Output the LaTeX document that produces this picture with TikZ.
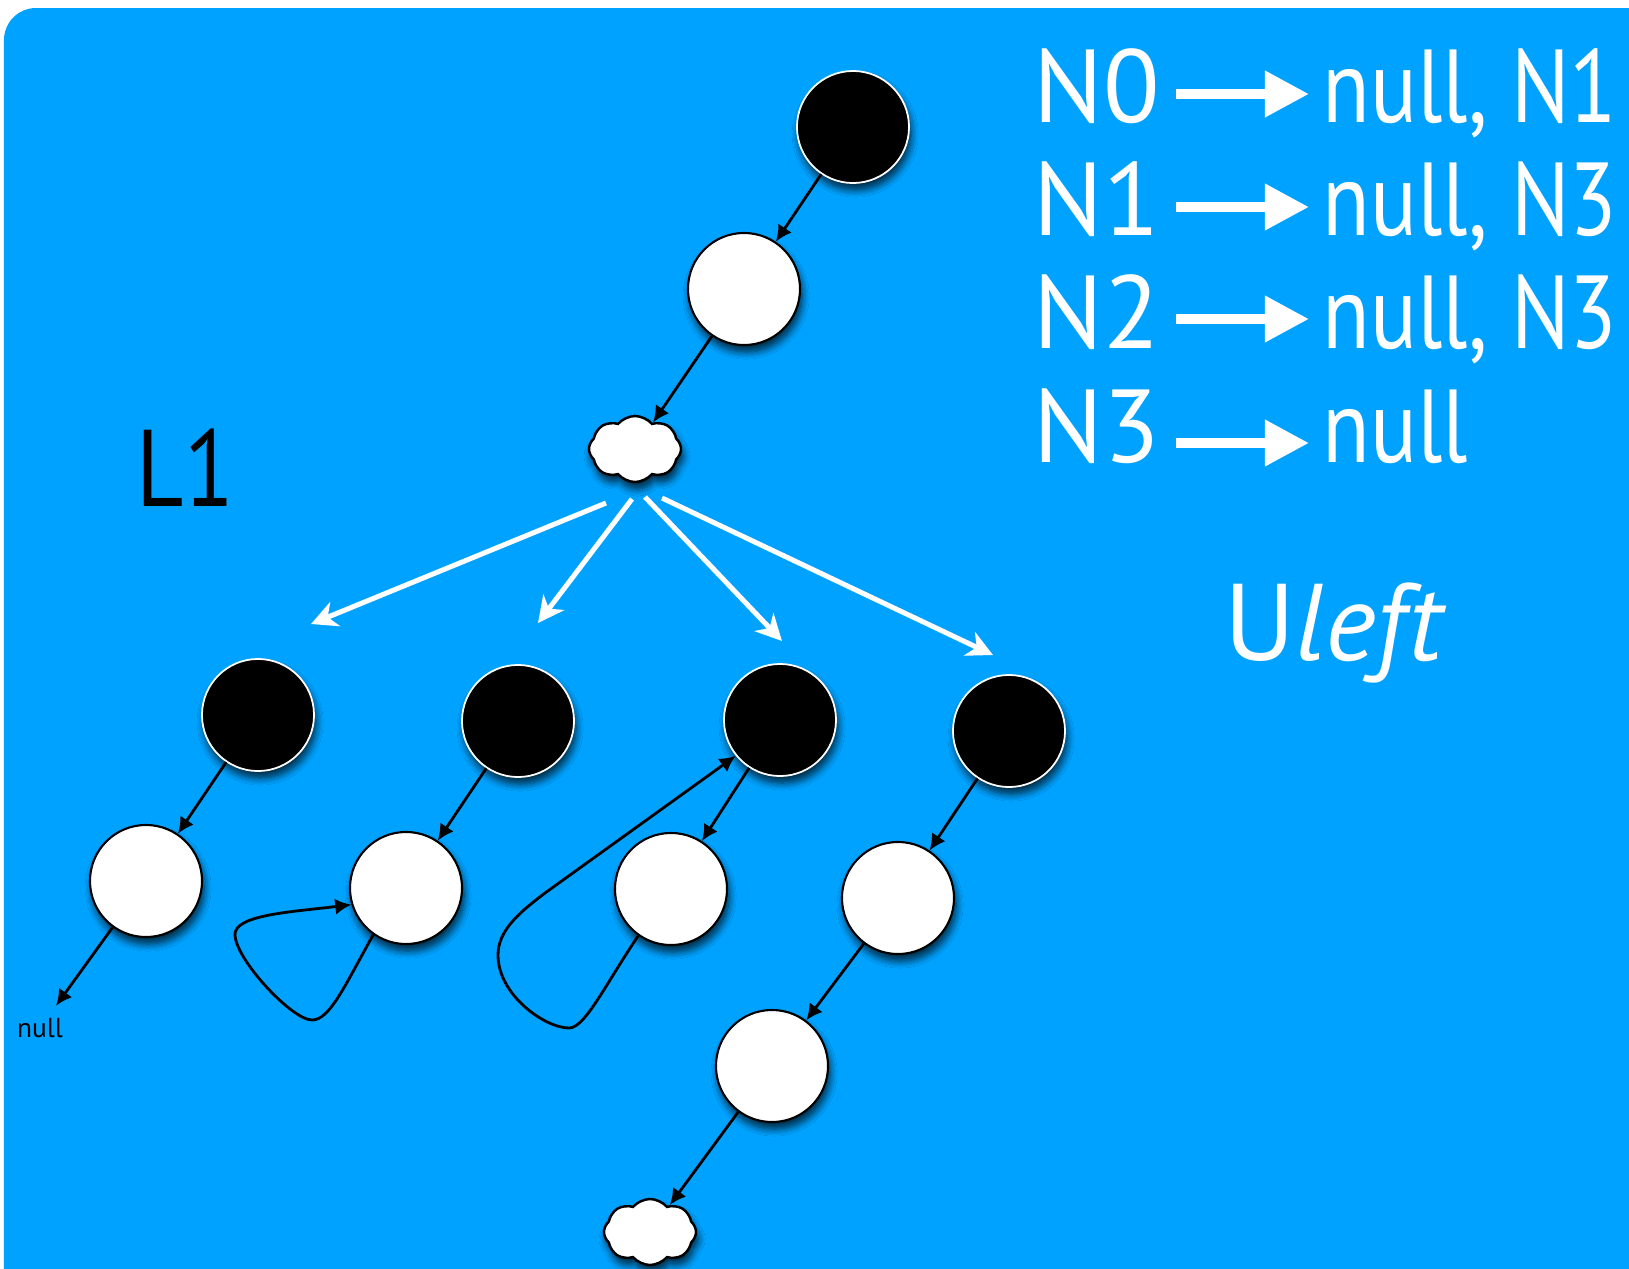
\documentclass[tikz,border=0pt]{standalone}
\usepackage{fontspec}
\setmainfont{PT Sans}
\newfontfamily\narrowsans{PT Sans}[FakeStretch=0.84]
\usepackage{tikz}
\usetikzlibrary{positioning,calc}
\usetikzlibrary{arrows.meta,shapes.symbols,shadows.blur}
\definecolor{SlideBlue}{RGB}{0,162,255}
\tikzset{
  bnode/.style={circle,draw=white,fill=black,line width=0.5pt,inner sep=0pt,minimum size=1.12cm,
    blur shadow={shadow xshift=0.6pt,shadow yshift=-2pt,shadow blur steps=8,shadow opacity=75}},
  wnode/.style={bnode,draw=black,fill=white,line width=0.6pt},
  puff/.style={cloud,cloud puffs=8,cloud puff arc=100,draw=black,fill=white,line width=0.7pt,
    inner sep=0pt,minimum width=0.92cm,minimum height=0.66cm,
    blur shadow={shadow xshift=0.6pt,shadow yshift=-2pt,shadow blur steps=8,shadow opacity=75}},
  link/.style={draw=black,line width=0.8pt,-{Latex[length=4.6pt,width=4.6pt]}},
  fan/.style={draw=white,line width=0.05cm,-{Stealth[length=0.26cm,width=0.26cm,inset=0.08cm]}},
  maps/.style={draw=white,line width=0.1cm,-{Triangle[length=0.44cm,width=0.44cm]}},
  big/.style={text=white,inner sep=0pt,anchor=base west,font=\fontsize{29.5}{35}\selectfont},
  val/.style={big,font=\fontsize{29.5}{35}\narrowsans},
}

\begin{document}
\begin{tikzpicture}[x=0.01cm,y=-0.01cm]
\useasboundingbox (0,0) rectangle (1629,1269);
\fill[white] (0,0) rectangle (1629,1269);
\clip (0,0) rectangle (1629,1269);
\fill[SlideBlue,rounded corners=0.32cm] (4,8) rectangle (1700,1340);

% top chain
\node[bnode] (n0) at (853,127) {};
\node[wnode] (n1) at (744,289) {};
\node[puff] (s1) at (635,449) {};
\draw[link] (n0) -- (n1);
\draw[link] (n1) -- (s1);

% fan out of the cloud
\coordinate (f1s) at (606,503);
\coordinate (f1t) at (311,624);
\coordinate (f2s) at (632,499);
\coordinate (f2t) at (538,623);
\coordinate (f3s) at (645,497);
\coordinate (f3t) at (782,641);
\coordinate (f4s) at (662,498);
\coordinate (f4t) at (993,655);
\draw[fan] (f1s) -- (f1t);
\draw[fan] (f2s) -- (f2t);
\draw[fan] (f3s) -- (f3t);
\draw[fan] (f4s) -- (f4t);

% four lower trees
\node[bnode] (a1) at (258,715) {};
\node[bnode] (b1) at (518,721) {};
\node[bnode] (c1) at (780,720) {};
\node[bnode] (d1) at (1009,731) {};
\node[wnode] (a2) at (146,881) {};
\node[wnode] (b2) at (406,888) {};
\node[wnode] (c2) at (671,889) {};
\node[wnode] (d2) at (898,898) {};
\node[wnode] (d3) at (772,1066) {};
\node[puff] (s2) at (650,1232) {};
\node[font=\fontsize{7.8}{9}\selectfont] (nul) at (40,1028) {null};
\draw[link] (a1) -- (a2);
\draw[link] (b1) -- (b2);
\draw[link] (c1) -- (c2);
\draw[link] (d1) -- (d2);
\draw[link] (d2) -- (d3);
\draw[link] (d3) -- (s2);
\draw[link] (a2) -- (nul);
\draw[link] (b2.235) .. controls (345,985) and (330,1020) .. (312,1020)
  .. controls (292,1020) and (236,960) .. (235,935)
  .. controls (234,915) and (290,912) .. (b2.197);
\draw[link] (c2.235) .. controls (605,985) and (585,1028) .. (569,1028)
  .. controls (545,1028) and (498,995) .. (498,955)
  .. controls (498,930) and (520,912) .. (545,893) -- (c1.219);

% labels
\node[big,text=black,font=\fontsize{31}{36}\narrowsans] (lvl) at (136,506) {L1};
\node[big,font=\fontsize{31}{36}\selectfont] (u) at (1224,660) {U\textit{left}};

% table of successors
\node[big] (k0) at (1033,122) {N0};
\node[big] (k1) at (1033,235) {N1};
\node[big] (k2) at (1033,348) {N2};
\node[big] (k3) at (1033,462) {N3};
\node[val] (v0) at (1322,122) {null, N1};
\node[val] (v1) at (1322,235) {null, N3};
\node[val] (v2) at (1322,348) {null, N3};
\node[val] (v3) at (1322,462) {null};
\coordinate (m0s) at (1176,94);
\coordinate (m0t) at (1309,94);
\coordinate (m1s) at (1176,207);
\coordinate (m1t) at (1309,207);
\coordinate (m2s) at (1176,319);
\coordinate (m2t) at (1309,319);
\coordinate (m3s) at (1176,443);
\coordinate (m3t) at (1309,443);
\draw[maps] (m0s) -- (m0t);
\draw[maps] (m1s) -- (m1t);
\draw[maps] (m2s) -- (m2t);
\draw[maps] (m3s) -- (m3t);
\end{tikzpicture}
\end{document}
